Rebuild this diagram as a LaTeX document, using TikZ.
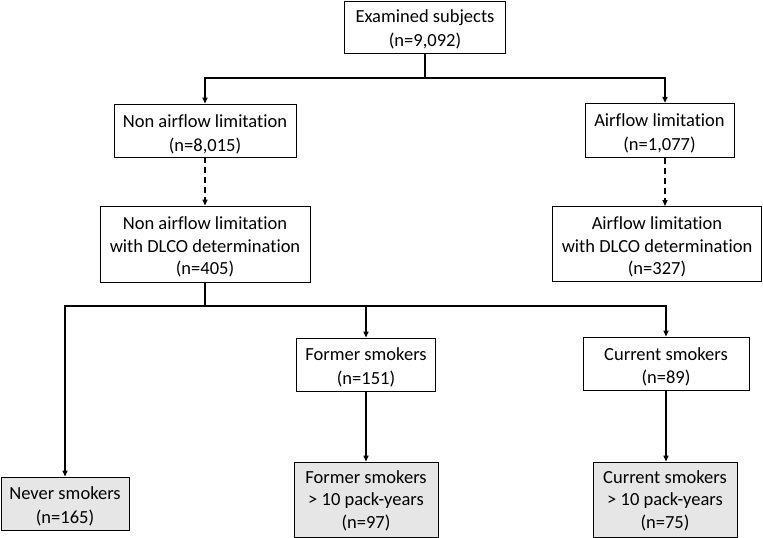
\documentclass[tikz,border=0pt]{standalone}
\usepackage{fontspec}
\setmainfont{Carlito}[RawFeature=-liga]
\usetikzlibrary{arrows.meta}
\definecolor{boxgray}{RGB}{230,230,230}
\begin{document}
\begin{tikzpicture}[x=1pt,y=-1pt,
  box/.style={draw=black,line width=0.9pt,fill=white,inner sep=0pt},
  graybox/.style={box,fill=boxgray},
  txt/.style={align=center,inner sep=0pt},
  two/.style={txt,font=\fontsize{18.5}{24}\selectfont},
  twob/.style={txt,font=\fontsize{18.5}{23.5}\selectfont},
  three/.style={txt,font=\fontsize{18.5}{22.5}\selectfont},
  conn/.style={line width=1.4pt},
  arr/.style={conn,-{Triangle[length=6pt,width=5pt]}},
  darr/.style={arr,dash pattern=on 6pt off 4pt}]
\useasboundingbox (0,0) rectangle (763,538);
% boxes
\node[box,minimum width=161pt,minimum height=52pt] (top) at (425,27) {};
\node[box,minimum width=182pt,minimum height=53pt] (nal) at (205,130.5) {};
\node[box,minimum width=149pt,minimum height=54pt] (al) at (659.5,130.3) {};
\node[box,minimum width=210pt,minimum height=76pt] (nald) at (205,244) {};
\node[box,minimum width=209pt,minimum height=75pt] (ald) at (657,244) {};
\node[graybox,minimum width=128pt,minimum height=53pt] (never) at (65,503.5) {};
\node[box,minimum width=139pt,minimum height=53pt] (former) at (366,364.5) {};
\node[box,minimum width=166pt,minimum height=53pt] (current) at (666,363.5) {};
\node[graybox,minimum width=144pt,minimum height=75pt] (fp) at (366,499.5) {};
\node[graybox,minimum width=144pt,minimum height=75pt] (cp) at (665,499.5) {};
% texts
\node[two,yshift=-2pt] (topt) at (top.center) {Examined subjects\\(n=9,092)};
\node[two,yshift=-3.5pt] (nalt) at (nal.center) {Non airflow limitation\\(n=8,015)};
\node[two,yshift=-3.5pt] (alt) at (al.center) {Airflow limitation\\(n=1,077)};
\node[three,yshift=-3pt] (naldt) at (nald.center) {Non airflow limitation\\with DLCO determination\\(n=405)};
\node[three,yshift=-3pt] (aldt) at (ald.center) {Airflow limitation\\with DLCO determination\\(n=327)};
\node[twob,yshift=-3pt] (nevert) at (never.center) {Never smokers\\(n=165)};
\node[twob,yshift=-3pt] (formert) at (former.center) {Former smokers\\(n=151)};
\node[twob,yshift=-3.5pt] (currentt) at (current.center) {Current smokers\\(n=89)};
\node[three,yshift=-1pt] (fpt) at (fp.center) {Former smokers\\> 10 pack-years\\(n=97)};
\node[three,yshift=-1pt] (cpt) at (cp.center) {Current smokers\\> 10 pack-years\\(n=75)};
\coordinate (j1) at (425,78);
\coordinate (j2) at (205,306);
\coordinate (ax) at (665,0);
% top split
\draw[conn] (top.south) -- (j1);
\draw[arr] (j1) -| (nal.north);
\draw[arr] (j1) -| (al.north -| ax);
% dashed
\draw[darr] (nal.south) -- (nald.north);
\draw[darr] (al.south -| ax) -- (ald.north -| ax);
% second split
\draw[conn] (nald.south) -- (j2);
\draw[arr] (j2) -| (never.north);
\draw[arr] (j2) -| (former.north);
\draw[arr] (j2) -| (current.north);
\draw[arr] (former.south) -- (former.south |- fp.north);
\draw[arr] (current.south) -- (current.south |- cp.north);
\end{tikzpicture}
\end{document}
